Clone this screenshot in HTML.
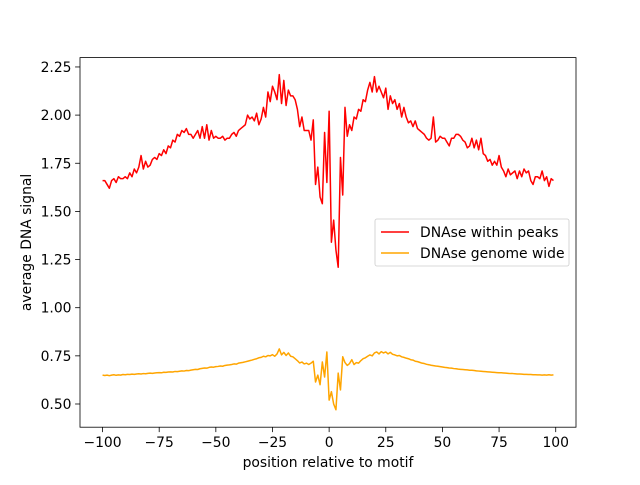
<!DOCTYPE html>
<html><head><meta charset="utf-8">
<style>
body{margin:0;background:#fff;font-family:"Liberation Sans","DejaVu Sans",sans-serif;}
svg text{font-family:"DejaVu Sans","Liberation Sans",sans-serif;font-size:13.9px;fill:#000;}
</style></head>
<body>
<svg id="chart" width="640" height="480" xmlns="http://www.w3.org/2000/svg">
<rect width="640" height="480" fill="#fff"/>
<g id="plot"></g>
</svg>
<script>
const xStart = -100;
const redValues = [
1.66,1.66,1.64,1.62,1.66,1.67,1.65,1.68,1.67,1.67,
1.68,1.67,1.70,1.68,1.72,1.70,1.73,1.79,1.72,1.76,
1.73,1.74,1.77,1.78,1.77,1.80,1.79,1.82,1.80,1.84,
1.83,1.87,1.86,1.90,1.89,1.92,1.91,1.93,1.90,1.90,
1.88,1.90,1.92,1.88,1.94,1.88,1.95,1.87,1.92,1.88,
1.89,1.88,1.88,1.89,1.87,1.88,1.88,1.90,1.91,1.89,
1.92,1.93,1.94,1.95,2.00,1.98,1.99,1.97,2.01,1.95,
1.98,2.04,1.99,2.12,2.07,2.15,2.12,2.08,2.21,2.06,
2.18,2.05,2.13,2.10,2.10,2.08,2.03,1.94,1.99,1.92,
1.92,1.92,1.87,1.975,1.64,1.73,1.575,1.54,1.91,1.65,
2.02,1.34,1.455,1.30,1.21,1.78,1.585,2.04,1.89,1.95,
1.92,1.99,1.98,2.03,2.02,2.08,2.07,2.13,2.17,2.12,
2.20,2.12,2.15,2.12,2.09,2.14,2.03,2.10,2.06,2.08,
2.03,2.06,1.99,2.04,1.99,1.96,1.97,1.94,1.97,1.93,
1.92,1.91,1.90,1.88,1.87,1.88,1.99,1.86,1.87,1.89,
1.88,1.88,1.86,1.84,1.88,1.88,1.90,1.90,1.89,1.87,
1.86,1.83,1.84,1.88,1.83,1.87,1.82,1.88,1.80,1.79,
1.76,1.77,1.74,1.76,1.74,1.79,1.73,1.71,1.68,1.72,
1.69,1.70,1.71,1.67,1.71,1.68,1.72,1.70,1.71,1.66,
1.64,1.68,1.68,1.67,1.71,1.66,1.68,1.63,1.67,1.66];
const orangeValues = [
0.650,0.648,0.650,0.647,0.650,0.652,0.649,0.651,0.650,0.653,
0.652,0.654,0.653,0.655,0.654,0.656,0.657,0.656,0.658,0.657,
0.659,0.660,0.659,0.661,0.662,0.663,0.662,0.665,0.664,0.666,
0.667,0.666,0.669,0.668,0.670,0.672,0.671,0.674,0.673,0.676,
0.678,0.680,0.679,0.683,0.685,0.687,0.686,0.690,0.692,0.691,
0.694,0.695,0.697,0.696,0.700,0.702,0.703,0.705,0.708,0.707,
0.712,0.714,0.716,0.719,0.722,0.725,0.728,0.732,0.735,0.740,
0.742,0.748,0.745,0.752,0.750,0.756,0.748,0.760,0.786,0.755,
0.768,0.752,0.765,0.748,0.745,0.735,0.725,0.713,0.718,0.708,
0.712,0.705,0.712,0.722,0.614,0.650,0.600,0.718,0.640,0.770,
0.520,0.564,0.500,0.470,0.660,0.573,0.745,0.715,0.700,0.710,
0.730,0.705,0.715,0.712,0.725,0.735,0.740,0.748,0.755,0.750,
0.765,0.770,0.760,0.772,0.765,0.770,0.760,0.768,0.758,0.755,
0.750,0.752,0.745,0.742,0.738,0.735,0.730,0.728,0.722,0.720,
0.716,0.712,0.710,0.706,0.704,0.701,0.699,0.697,0.696,0.694,
0.692,0.690,0.689,0.687,0.686,0.684,0.683,0.681,0.680,0.679,
0.678,0.677,0.675,0.675,0.674,0.672,0.671,0.670,0.669,0.668,
0.667,0.666,0.665,0.664,0.663,0.662,0.662,0.661,0.660,0.659,
0.658,0.658,0.657,0.656,0.656,0.655,0.654,0.654,0.653,0.653,
0.652,0.652,0.651,0.651,0.650,0.651,0.650,0.652,0.650,0.651];
const xTicks = [-100,-75,-50,-25,0,25,50,75,100];
const yTicks = [0.50,0.75,1.00,1.25,1.50,1.75,2.00,2.25];

const L=80,R=576,T=57.6,B=427.2;
const xmin=-109.95,xmax=108.95,ymin=0.3795,ymax=2.2986;
const sx=v=>L+(v-xmin)/(xmax-xmin)*(R-L);
const sy=v=>B-(v-ymin)/(ymax-ymin)*(B-T);
const NS="http://www.w3.org/2000/svg";
const g=document.getElementById('plot');
function mk(tag,attrs,parent){const e=document.createElementNS(NS,tag);for(const k in attrs)e.setAttribute(k,attrs[k]);(parent||g).appendChild(e);return e;}

function linePath(vals){return vals.map((v,i)=>(i?'L':'M')+sx(xStart+i).toFixed(2)+','+sy(v).toFixed(2)).join('');}
let p=mk('path',{d:linePath(redValues),fill:'none',stroke:'#ff0000','stroke-width':1.5,'stroke-linejoin':'round'});


p=mk('path',{d:linePath(orangeValues),fill:'none',stroke:'#ffa500','stroke-width':1.5,'stroke-linejoin':'round'});



let fr=mk('rect',{x:L,y:T,width:R-L,height:B-T,fill:'none',stroke:'#000','stroke-width':0.8});



xTicks.forEach(t=>{
  const x=sx(t);
  const tk=mk('line',{x1:x,x2:x,y1:B,y2:B+4.9,stroke:'#000','stroke-width':0.8});
  
  
  const tx=mk('text',{x:x,y:B+20,'text-anchor':'middle'});
  tx.textContent=String(t).replace('-','\u2212');
  
  
});
yTicks.forEach(t=>{
  const y=sy(t);
  const tk=mk('line',{x1:L-4.9,x2:L,y1:y,y2:y,stroke:'#000','stroke-width':0.8});
  
  
  const tx=mk('text',{x:L-8.5,y:y+5,'text-anchor':'end'});
  tx.textContent=t.toFixed(2);
  
  
});
let xt=mk('text',{x:(L+R)/2,y:467,'text-anchor':'middle'});
xt.textContent='position relative to motif';


let yt=mk('text',{x:0,y:0,'text-anchor':'middle',transform:'translate(31,'+((T+B)/2)+') rotate(-90)'});
yt.textContent='average DNA signal';



const lg=mk('g',{});


mk('rect',{x:375,y:219,width:194,height:47,rx:2,fill:'#fff','fill-opacity':0.8,stroke:'#ccc','stroke-width':0.8},lg);
[['DNAse within peaks','#ff0000',232],['DNAse genome wide','#ffa500',253]].forEach(([n,c,y])=>{
  const e=mk('g',{},lg);
  
  
  mk('line',{x1:381,x2:409,y1:y,y2:y,stroke:c,'stroke-width':1.5},e);
  const t=mk('text',{x:420,y:y+5},e);
  t.textContent=n;
});
</script>
</body></html>
